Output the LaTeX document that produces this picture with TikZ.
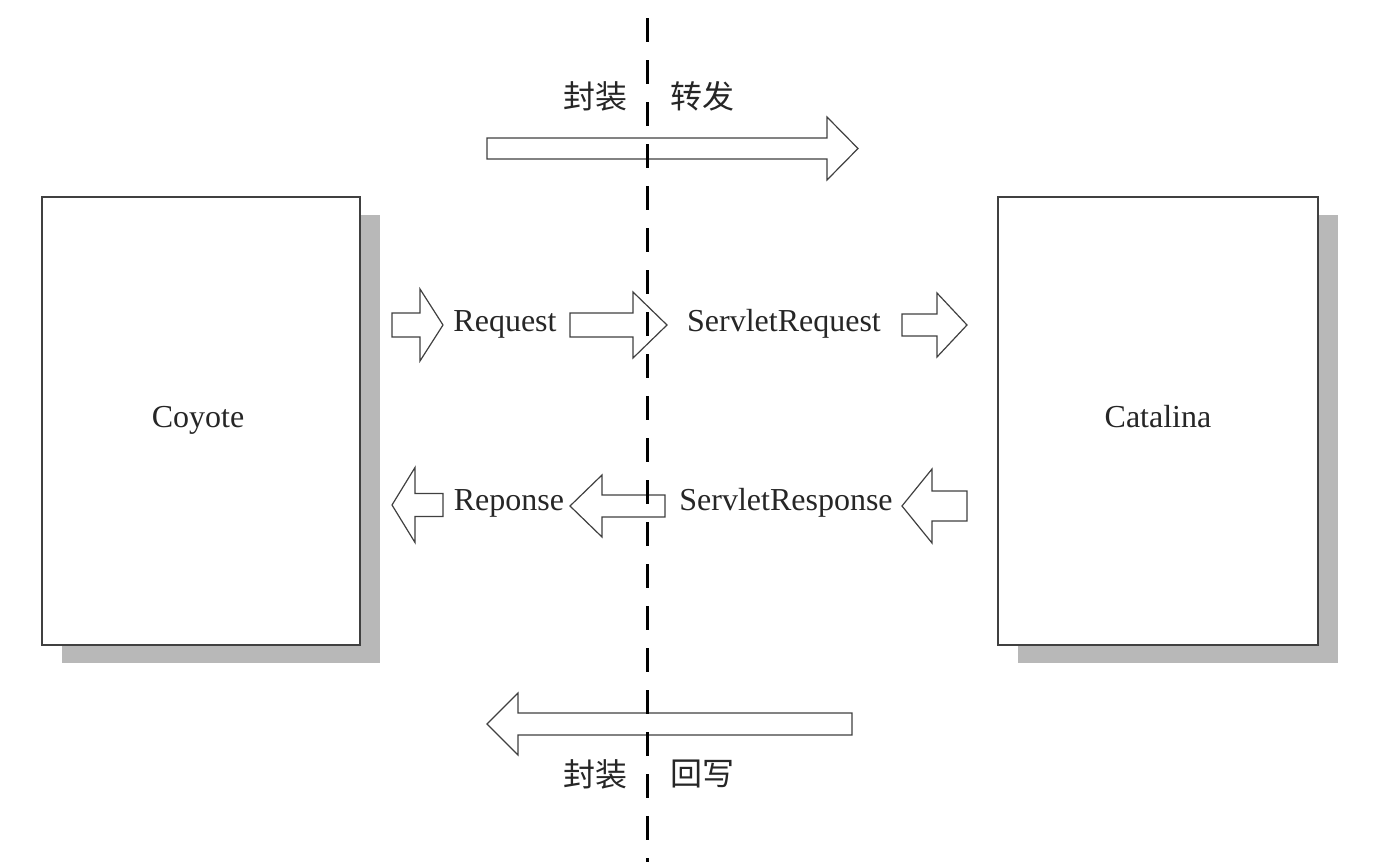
\documentclass[tikz,border=0pt]{standalone}
\usepackage{fontspec}
\setmainfont{Liberation Serif}
\newfontfamily\cjk{Noto Sans CJK SC}
\usetikzlibrary{shadows}
\tikzset{box/.style={draw=black!75,line width=0.6pt,fill=white,minimum width=159pt,minimum height=224pt,inner sep=0pt,
  drop shadow={shadow xshift=10pt,shadow yshift=-9pt,fill=black!28,opacity=1}}}
\tikzset{blk/.style={draw=black!75,line width=0.6pt,fill=white,line join=miter}}
\tikzset{t/.style={font=\fontsize{16}{16}\selectfont,text=black!85,anchor=base,inner sep=0pt}}
\tikzset{c/.style={font=\cjk\fontsize{16}{16}\selectfont,text=black!85,inner sep=0pt}}
\tikzset{cut/.style={line width=1.5pt,dash pattern=on 12pt off 9pt}}
% block arrow: #1 tail, #2 head base, #3 tip, #4 mid y, #5 shaft half, #6 head half
\newcommand\blockarrow[6]{\draw[blk] (#1,#4-#5) -- (#2,#4-#5) -- (#2,#4-#6) -- (#3,#4) -- (#2,#4+#6) -- (#2,#4+#5) -- (#1,#4+#5) -- cycle;}
\begin{document}
\begin{tikzpicture}[x=0.5pt,y=-0.5pt]
  \useasboundingbox (0,0) rectangle (1373,868);
  % the two containers
  \node[box] (coyote) at (201,421) {};
  \node[box,minimum width=160pt] (catalina) at (1158,421) {};
  \node[t] (coyotetxt) at (198,427) {Coyote};
  \node[t] (catalinatxt) at (1158,427) {Catalina};
  % top: wrap and forward
  \node[c] (wrapin) at (595,96) {封装};
  \node[c] (fwd) at (702,96) {转发};
  \blockarrow{487}{827}{858}{148.5}{10.5}{31.5}
  % request row
  \blockarrow{392}{420}{443}{325}{12}{36}
  \node[t] (req) at (505,331) {Request};
  \blockarrow{570}{633}{667}{325}{12}{33}
  \node[t] (sreq) at (784,331) {ServletRequest};
  \blockarrow{902}{937}{967}{325}{11}{32}
  % response row
  \blockarrow{443}{415}{392}{505}{11.5}{37.5}
  \node[t] (resp) at (509,510) {Reponse};
  \blockarrow{665}{602}{570}{506}{11}{31}
  \node[t] (sresp) at (786,510) {ServletResponse};
  \blockarrow{967}{932}{902}{506}{15}{37}
  % bottom: wrap and write back
  \blockarrow{852}{518}{487}{724}{11}{31}
  \node[c] (wrapout) at (595,774) {封装};
  \node[c] (back) at (702,774) {回写};
  % boundary
  \coordinate (ctop) at (647,18);
  \coordinate (cbot) at (647,862);
  \draw[cut] (ctop) -- (cbot);
\end{tikzpicture}
\end{document}
